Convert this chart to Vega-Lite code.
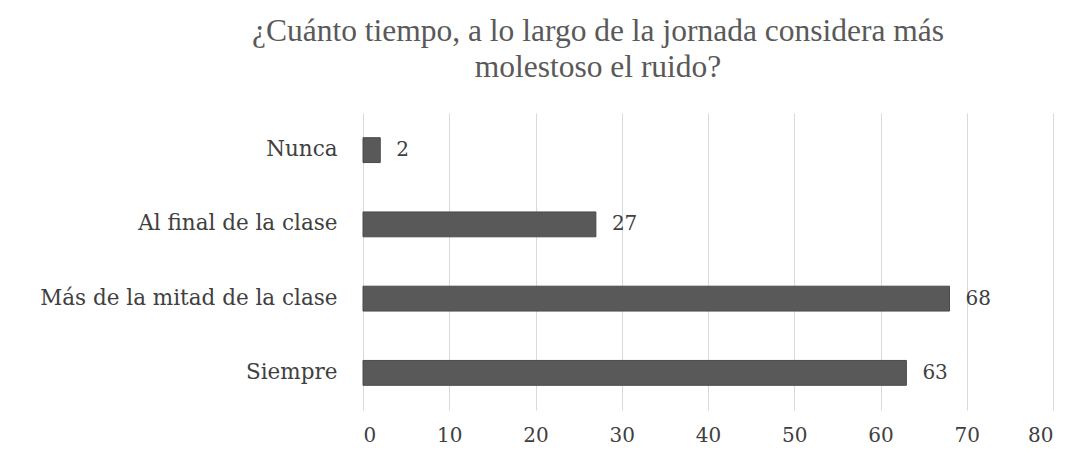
{
  "$schema": "https://vega.github.io/schema/vega-lite/v6.json",
  "width": 690,
  "height": 297,
  "autosize": "none",
  "padding": {"left": 363, "top": 113, "right": 35, "bottom": 51},
  "background": "white",
  "title": {
    "text": ["¿Cuánto tiempo, a lo largo de la jornada considera más", "molestoso el ruido?"],
    "font": "Liberation Serif",
    "fontSize": 31.5,
    "fontWeight": "normal",
    "color": "#595959",
    "lineHeight": 36,
    "anchor": "middle",
    "dx": -110,
    "offset": 30
  },
  "data": {
    "values": [
      {"categoria": "Nunca", "valor": 2},
      {"categoria": "Al final de la clase", "valor": 27},
      {"categoria": "Más de la mitad de la clase", "valor": 68},
      {"categoria": "Siempre", "valor": 63}
    ]
  },
  "encoding": {
    "y": {
      "field": "categoria",
      "type": "nominal",
      "sort": null,
      "scale": {"paddingInner": 0.665, "paddingOuter": 0.3325},
      "axis": {
        "title": null,
        "domain": false,
        "ticks": false,
        "grid": false,
        "labelFont": "DejaVu Serif",
        "labelFontSize": 21.5,
        "labelColor": "#404040",
        "labelPadding": 26,
        "labelLimit": 400
      }
    },
    "x": {
      "field": "valor",
      "type": "quantitative",
      "scale": {"domain": [0, 80]},
      "axis": {
        "title": null,
        "values": [0, 10, 20, 30, 40, 50, 60, 70, 80],
        "domain": false,
        "ticks": false,
        "grid": true,
        "gridColor": "#d9d9d9",
        "gridWidth": 1,
        "labelFont": "DejaVu Serif",
        "labelFontSize": 20,
        "labelColor": "#404040",
        "labelPadding": 15
      }
    }
  },
  "layer": [
    {
      "mark": {"type": "bar", "color": "#595959", "stroke": "#4a4a4a", "strokeWidth": 1}
    },
    {
      "mark": {"type": "text", "align": "left", "baseline": "middle", "dx": 16, "font": "DejaVu Serif", "fontSize": 20, "color": "#404040"},
      "encoding": {"text": {"field": "valor", "type": "quantitative"}}
    }
  ],
  "config": {"view": {"stroke": null}}
}
